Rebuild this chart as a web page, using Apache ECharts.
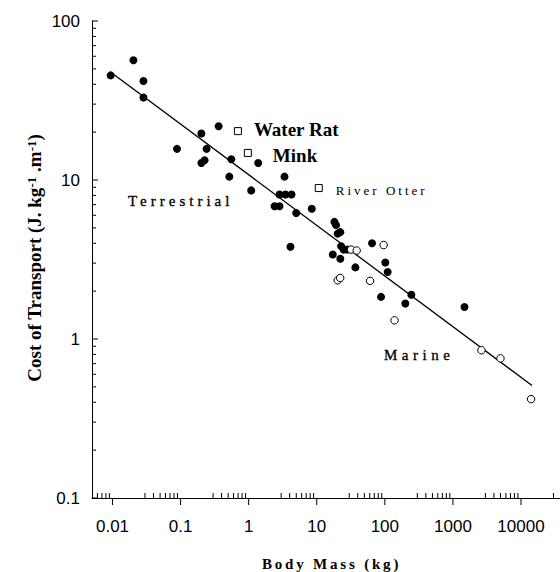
<!DOCTYPE html>
<html>
<head>
<meta charset="utf-8">
<script src="https://cdn.jsdelivr.net/npm/echarts@6/dist/echarts.min.js"></script>
<style>
html, body { margin: 0; padding: 0; background: #fff; }
#main { width: 560px; height: 572px; }
</style>
</head>
<body>
<div id="main"></div>
<script>
// terrestrial + marine (filled circles)
var filledMass = [0.0094, 0.0203, 0.0285, 0.0285, 0.0886, 0.202, 0.362, 0.241, 0.202, 0.225,
	0.556, 1.38, 0.52, 1.09, 3.36, 2.84, 3.47, 4.26, 2.40, 2.84,
	4.99, 8.45, 4.11, 18.2, 19.2, 20.3, 22.2, 22.8, 24.9, 28.0,
	17.2, 22.2, 36.9, 64.9, 101.6, 110, 88, 200, 245, 1479];
var filledCost = [45.5, 56.7, 41.9, 33.0, 15.7, 19.6, 21.8, 15.7, 12.8, 13.3,
	13.5, 12.8, 10.5, 8.6, 10.5, 8.1, 8.1, 8.1, 6.84, 6.84,
	6.2, 6.6, 3.8, 5.45, 5.2, 4.6, 4.7, 3.83, 3.65, 3.65,
	3.4, 3.2, 2.82, 4.0, 3.03, 2.64, 1.84, 1.67, 1.9, 1.59];
// open circles
var openMass = [31.9, 38.6, 96, 20.3, 22.1, 60.7, 139, 2624, 4990, 14060];
var openCost = [3.65, 3.6, 3.9, 2.34, 2.42, 2.32, 1.31, 0.85, 0.755, 0.419];
// semi-aquatic (open squares)
var semiNames = ['Water Rat', 'Mink', 'River Otter'];
var semiMass = [0.695, 0.973, 10.7];
var semiCost = [20.3, 14.8, 8.9];
// regression line end points
var fitMass = [0.01, 14500];
var fitCost = [46.8, 0.51];
// axis ticks
var xTickValues = [0.01, 0.1, 1, 10, 100, 1000, 10000];
var xTickLabels = ['0.01', '0.1', '1', '10', '100', '1000', '10000'];
var yTickValues = [0.1, 1, 10, 100];
var yTickLabels = ['0.1', '1', '10', '100'];

var X_MIN = 0.005, X_MAX = 40000, Y_MIN = 0.1, Y_MAX = 100;

function pairs(xs, ys) {
	return xs.map(function (x, i) { return [x, ys[i]]; });
}
function tickLabel(v, values, labels) {
	for (var i = 0; i < values.length; i++) {
		if (Math.abs(Math.log10(v) - Math.log10(values[i])) < 1e-6) return labels[i];
	}
	return '';
}

// minor ticks (x: 3..9, y: 2..9 in each decade)
var xMinor = [];
for (var n = -3; n <= 4; n++) {
	for (var k = 3; k <= 9; k++) {
		var v = k * Math.pow(10, n);
		if (v > X_MIN * 1.01 && v < X_MAX) xMinor.push(v);
	}
}
var yMinor = [];
for (var n2 = -1; n2 <= 1; n2++) {
	for (var k2 = 2; k2 <= 9; k2++) yMinor.push(k2 * Math.pow(10, n2));
}
var xTickData = xTickValues.map(function (v) { return [v, Y_MIN, 1]; })
	.concat(xMinor.map(function (v) { return [v, Y_MIN, 0]; }));
var yTickData = yTickValues.map(function (v) { return [X_MIN, v, 1]; })
	.concat(yMinor.map(function (v) { return [X_MIN, v, 0]; }));

var semiLabelOpts = [
	{ distance: 12, offset: [0, -1.5] },
	{ distance: 21, offset: [0, 2.5] },
	{ distance: 13, offset: [0, 2], fontWeight: 'normal', fontSize: 13 }
];

// letter spacing for the spaced-out labels (svg renderer)
var spacing = {
	'Terrestrial': '4px',
	'Marine': '4.5px',
	'River Otter': '3px',
	'Body Mass (kg)': '2.8px'
};

var myChart = echarts.init(document.getElementById('main'), null, { renderer: 'svg' });

var option = {
	animation: false,
	backgroundColor: '#fff',
	grid: { left: 92, right: -2, top: 21, bottom: 74, outerBoundsMode: 'none' },
	xAxis: {
		type: 'log',
		logBase: 10,
		min: X_MIN,
		max: X_MAX,
		splitNumber: 7,
		axisLine: { onZero: false, lineStyle: { color: '#000', width: 1 } },
		axisTick: { show: false },
		splitLine: { show: false },
		axisLabel: {
			margin: 20,
			color: '#000',
			fontFamily: 'Liberation Sans',
			fontSize: 17,
			showMinLabel: false,
			showMaxLabel: false,
			formatter: function (v) { return tickLabel(v, xTickValues, xTickLabels); }
		}
	},
	yAxis: {
		type: 'log',
		logBase: 10,
		min: Y_MIN,
		max: Y_MAX,
		axisLine: { onZero: false, lineStyle: { color: '#000', width: 1 } },
		axisTick: { show: false },
		splitLine: { show: false },
		axisLabel: {
			margin: 12,
			color: '#000',
			fontFamily: 'Liberation Sans',
			fontSize: 17,
			formatter: function (v) { return tickLabel(v, yTickValues, yTickLabels); }
		}
	},
	graphic: [
		{
			type: 'text', x: 34, y: 258, rotation: Math.PI / 2,
			style: {
				text: 'Cost of Transport (J. kg{s|-1} .m{s|-1})',
				font: 'bold 19px "Liberation Serif"',
				fill: '#000', align: 'center', verticalAlign: 'middle',
				rich: { s: { fontSize: 13, fontWeight: 'bold', fontFamily: 'Liberation Serif', verticalAlign: 'top', lineHeight: 12 } }
			}
		},
		{
			type: 'text', x: 262, y: 564,
			style: { text: 'Body Mass (kg)', font: 'bold 15px "Liberation Serif"', fill: '#000', verticalAlign: 'middle' }
		},
		{
			type: 'text', x: 128, y: 201,
			style: { text: 'Terrestrial', font: '15px "Liberation Serif"', fill: '#000', stroke: '#000', lineWidth: 0.3, verticalAlign: 'middle' }
		},
		{
			type: 'text', x: 384, y: 355,
			style: { text: 'Marine', font: '15px "Liberation Serif"', fill: '#000', stroke: '#000', lineWidth: 0.3, verticalAlign: 'middle' }
		}
	],
	series: [
		{
			name: 'fit',
			type: 'line',
			data: pairs(fitMass, fitCost),
			symbol: 'none',
			lineStyle: { color: '#000', width: 1.3 },
			z: 1
		},
		{
			name: 'filled',
			type: 'scatter',
			data: pairs(filledMass, filledCost),
			symbolSize: 8,
			itemStyle: { color: '#000', opacity: 1 },
			z: 3
		},
		{
			name: 'open',
			type: 'scatter',
			data: pairs(openMass, openCost),
			symbolSize: 7.5,
			itemStyle: { color: '#fff', borderColor: '#000', borderWidth: 1, opacity: 1 },
			z: 3
		},
		{
			name: 'semi',
			type: 'scatter',
			symbol: 'rect',
			symbolSize: 7,
			itemStyle: { color: '#fff', borderColor: '#000', borderWidth: 1, opacity: 1 },
			label: {
				show: true,
				position: 'right',
				formatter: '{b}',
				color: '#000',
				fontFamily: 'Liberation Serif',
				fontWeight: 'bold',
				fontSize: 19
			},
			data: semiNames.map(function (nm, i) {
				return { name: nm, value: [semiMass[i], semiCost[i]], label: semiLabelOpts[i] };
			}),
			z: 3
		},
		{
			name: 'xticks',
			type: 'custom',
			silent: true,
			data: xTickData,
			renderItem: function (params, api) {
				var p = api.coord([api.value(0), api.value(1)]);
				var major = api.value(2) === 1;
				return {
					type: 'line',
					shape: { x1: p[0], y1: p[1], x2: p[0], y2: major ? p[1] + 7 : p[1] - 5 },
					style: { stroke: '#000', lineWidth: 1 }
				};
			},
			z: 4
		},
		{
			name: 'yticks',
			type: 'custom',
			silent: true,
			data: yTickData,
			renderItem: function (params, api) {
				var p = api.coord([api.value(0), api.value(1)]);
				var major = api.value(2) === 1;
				return {
					type: 'line',
					shape: { x1: p[0], y1: p[1], x2: p[0] + (major ? 6 : 4), y2: p[1] },
					style: { stroke: '#000', lineWidth: 1 }
				};
			},
			z: 4
		}
	]
};

function applySpacing() {
	var texts = document.querySelectorAll('#main svg text');
	for (var i = 0; i < texts.length; i++) {
		var s = spacing[texts[i].textContent];
		if (s) texts[i].setAttribute('letter-spacing', s);
	}
}

myChart.setOption(option);
myChart.on('finished', applySpacing);
applySpacing();
</script>
</body>
</html>
